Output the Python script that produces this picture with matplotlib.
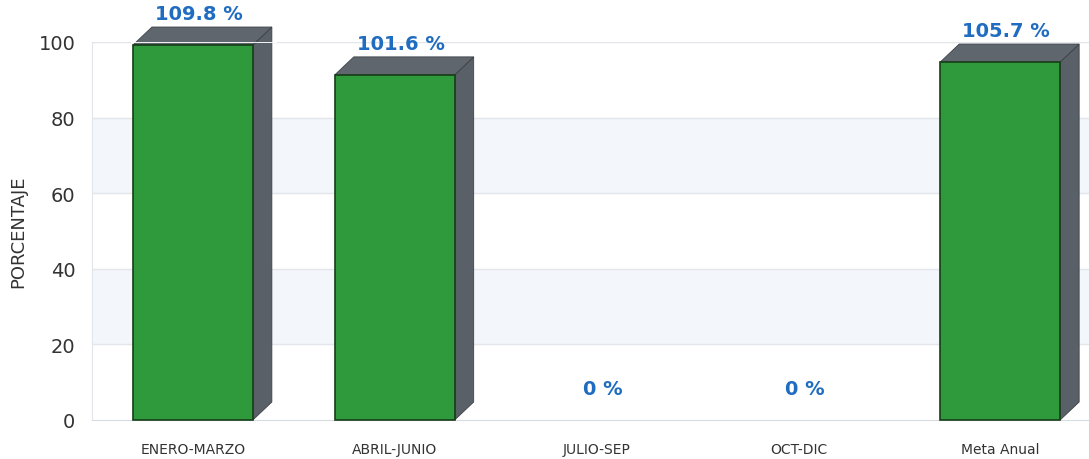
import matplotlib
matplotlib.use("Agg")
import matplotlib.pyplot as plt
from matplotlib.patches import Polygon

categories = ["ENERO-MARZO", "ABRIL-JUNIO", "JULIO-SEP", "OCT-DIC", "Meta Anual"]
bar_heights = [99.2, 91.3, 0.0, 0.0, 94.7]
value_labels = ["109.8 %", "101.6 %", "0 %", "0 %", "105.7 %"]
yticks = [0, 20, 40, 60, 80, 100]

W, H = 1089, 460
fig = plt.figure(figsize=(W / 100, H / 100), dpi=100)
fig.patch.set_facecolor("white")
ax = fig.add_axes([92 / W, 39 / H, (W - 92) / W, (421 - 43) / H])
ax.set_xlim(-0.5, 4.44)
ax.set_ylim(0, 100)
ax.set_facecolor("white")

# background bands and grid
for lo in (20, 60):
    ax.axhspan(lo, lo + 20, color="#f3f6fb", zorder=0, lw=0)
for y in yticks[1:]:
    ax.axhline(y, color="#e2e5ea", lw=1, zorder=0.5)

bw = 0.594
xs = list(range(len(categories)))
ax.bar(xs, bar_heights, width=bw, color="#2f9a3c", edgecolor="#163d18",
       linewidth=[1.2 if v > 0 else 0 for v in bar_heights], zorder=3, clip_on=False)

# 3D depth in data units from pixel depth
ax_w_px = (W - 92)
ax_h_px = (421 - 43)
dpx, dpy = 19, 18
dx = dpx * (4.44 + 0.5) / ax_w_px
dy = dpy * 100 / ax_h_px
side_col = "#5a6067"
top_col = "#60666d"
for x, v in zip(xs, bar_heights):
    if v <= 0:
        continue
    l, r = x - bw / 2, x + bw / 2
    side = Polygon([(r, 0), (r + dx, dy), (r + dx, v + dy), (r, v)],
                   closed=True, facecolor=side_col, edgecolor="#3c4148",
                   lw=0.6, zorder=2, clip_on=False)
    top = Polygon([(l, v), (l + dx, v + dy), (r + dx, v + dy), (r, v)],
                  closed=True, facecolor=top_col, edgecolor="#3c4148",
                  lw=0.6, zorder=2, clip_on=False)
    ax.add_patch(side)
    ax.add_patch(top)

# top gridline passes over the bar tops
ax.axhline(100, xmin=0.04, xmax=0.185, color="white", lw=1.3, zorder=2.5)

# value labels
for x, v, t in zip(xs, bar_heights, value_labels):
    ax.annotate(t, (x + 0.03, v + dy), xytext=(0, 9.5), textcoords="offset points",
                ha="center", va="center", color="#1f6cc0", fontsize=14,
                fontweight="bold", annotation_clip=False, zorder=5)

ax.set_yticks(yticks)
ax.set_yticklabels([str(y) for y in yticks], fontsize=14, color="#333333")
ax.set_xticks(xs)
ax.set_xticklabels(categories, fontsize=10, color="#333333")
ax.tick_params(axis="both", length=0)
ax.tick_params(axis="y", pad=12)
ax.tick_params(axis="x", pad=16)
ax.set_ylabel("PORCENTAJE", fontsize=13, color="#333333", labelpad=8)

for s in ("top", "right"):
    ax.spines[s].set_visible(False)
ax.spines["left"].set_color("#e2e5ea")
ax.spines["bottom"].set_color("#d8dbe0")

fig.savefig("out.png", dpi=100, facecolor="white")
